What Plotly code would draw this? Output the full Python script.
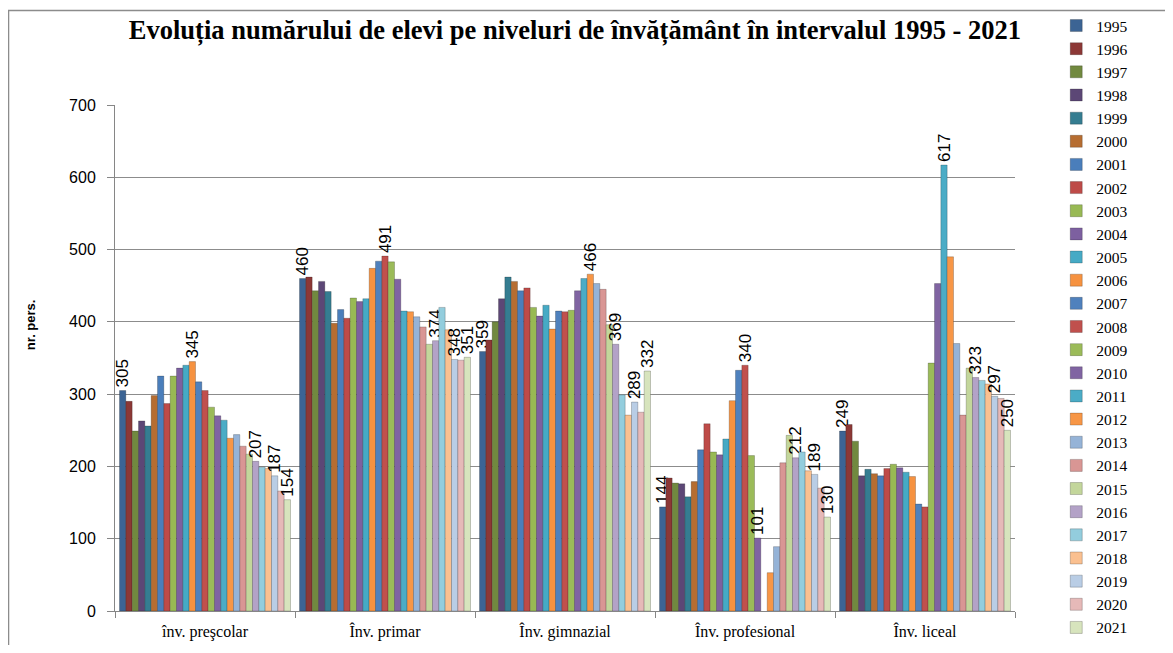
import plotly.graph_objects as go

categories = ["înv. preşcolar", "Înv. primar", "Înv. gimnazial", "Înv. profesional", "Înv. liceal"]
years = [str(y) for y in range(1995, 2022)]

prescolar = [305, 290, 249, 263, 256, 298, 325, 287, 325, 336, 340, 345, 317, 305, 282, 270,
             264, 239, 244, 228, 217, 207, 199, 197, 187, 166, 154]
primar = [460, 462, 443, 456, 442, 398, 417, 405, 433, 428, 432, 474, 484, 491, 483, 459,
          415, 414, 407, 393, 369, 374, 420, 389, 348, 347, 351]
gimnazial = [359, 375, 400, 432, 462, 456, 443, 447, 420, 408, 423, 390, 415, 414, 416, 443,
             460, 466, 453, 445, 396, 369, 299, 271, 289, 275, 332]
profesional = [144, 184, 177, 176, 158, 179, 223, 259, 220, 216, 238, 291, 333, 340, 215, 101,
               None, 53, 89, 205, 243, 212, 220, 194, 189, 170, 130]
liceal = [249, 258, 235, 187, 196, 190, 187, 197, 203, 198, 192, 186, 148, 144, 343, 453,
          617, 490, 370, 271, 336, 323, 319, 314, 297, 294, 250]

values_by_category = [prescolar, primar, gimnazial, profesional, liceal]

labelled_years = [
    ["1995", "2006", "2016", "2019", "2021"],
    ["1995", "2008", "2016", "2019", "2021"],
    ["1995", "2012", "2016", "2019", "2021"],
    ["1995", "2008", "2010", "2016", "2019", "2021"],
    ["1995", "2011", "2016", "2019", "2021"],
]

colors = ["#3C6494", "#8C3836", "#71893F", "#5C4776", "#357D91", "#B66D31",
          "#4A7EBB", "#BE4B48", "#98B954", "#7D60A0", "#46AAC5", "#F69240",
          "#4F81BD", "#C0504D", "#9BBB59", "#8064A2", "#4BACC6", "#F79646",
          "#95B3D7", "#D99694", "#C3D69B", "#B3A2C7", "#93CDDD", "#FAC090",
          "#B9CDE5", "#E6B9B8", "#D7E4BD"]

fig = go.Figure()
for i, yr in enumerate(years):
    vals = [vc[i] for vc in values_by_category]
    texts = [str(vals[c]) if (yr in labelled_years[c] and vals[c] is not None) else ""
             for c in range(len(categories))]
    fig.add_trace(go.Bar(
        name=yr, x=categories, y=vals,
        marker=dict(color=colors[i], line=dict(color="rgba(0,0,0,0.35)", width=0.6)),
        text=texts, textposition="outside", textangle=-90,
        constraintext="none", cliponaxis=False,
        textfont=dict(family="Liberation Sans, Arial", size=17, color="#000"),
        hoverinfo="x+y+name",
    ))

fig.update_layout(
    width=1157, height=637,
    barmode="group", bargap=0.05, bargroupgap=0.0,
    paper_bgcolor="white", plot_bgcolor="white",
    margin=dict(l=107, r=150, t=97, b=34, autoexpand=False),
    title=dict(text="<b>Evoluția numărului de elevi pe niveluri de învățământ în intervalul 1995 - 2021</b>",
               font=dict(family="Liberation Serif, Times New Roman", size=26.5, color="#000"),
               x=0.49, xanchor="center", y=0.9655, yanchor="middle"),
    legend=dict(xref="container", yref="container", x=0.906, xanchor="left",
                y=0.9985, yanchor="top",
                font=dict(family="Liberation Serif, Times New Roman", size=15.5, color="#000"),
                traceorder="normal", itemwidth=30, tracegroupgap=0, maxheight=700,
                bgcolor="rgba(0,0,0,0)"),
    xaxis=dict(type="category", showline=True, linecolor="#868686", linewidth=1,
               automargin=False,
               ticks="outside", tickson="boundaries", ticklen=6, tickcolor="#868686",
               ticklabelstandoff=6,
               tickfont=dict(family="Liberation Serif, Times New Roman", size=16, color="#000")),
    yaxis=dict(range=[0, 700], dtick=100, showgrid=True, gridcolor="#8C8C8C", gridwidth=1,
               showline=True, linecolor="#868686", linewidth=1, automargin=False,
               ticks="outside", ticklen=7, tickcolor="#868686", zeroline=False,
               ticklabelstandoff=8,
               tickfont=dict(family="Liberation Sans, Arial", size=16, color="#000")),
    annotations=[dict(text="<b>nr. pers.</b>", textangle=-90, xref="paper", yref="paper",
                      x=-0.0944, y=0.565, xanchor="center", yanchor="middle", showarrow=False,
                      font=dict(family="Liberation Sans, Arial", size=13, color="#000"))],
    shapes=[dict(type="rect", xref="paper", yref="paper", x0=-0.1183, x1=1.3,
                 y0=-0.2, y1=1.1868, line=dict(color="#8C8C8C", width=1.5))],
)

fig.write_html("out.html")
